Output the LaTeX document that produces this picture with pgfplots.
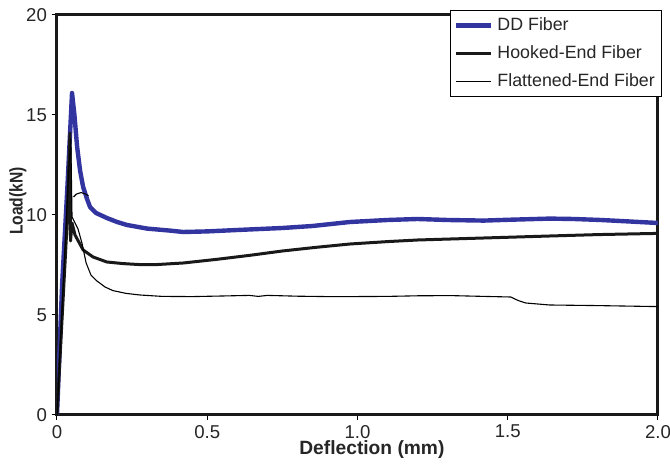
\documentclass[border=0pt]{standalone}
\usepackage{pgfplots}
\pgfplotsset{compat=1.18}
\usepackage{fontspec}
\setmainfont{Liberation Sans}
\definecolor{ddblue}{RGB}{50,52,160}
\begin{document}
\begin{tikzpicture}
\begin{axis}[
  scale only axis,
  width=300.5pt, height=200pt,
  xmin=0, xmax=2, ymin=0, ymax=20,
  xtick={0,0.5,1,1.5,2}, xticklabels={0,0.5,1.0,1.5,2.0},
  ytick={0,5,10,15,20},
  tick align=outside, major tick length=2.5pt,
  xtick pos=bottom, ytick pos=left,
  axis line style={line width=1.5pt, black!90},
  tick style={black, line width=0.5pt},
  /pgf/number format/assume math mode=true,
  ticklabel style={font=\fontsize{9.3}{11}\selectfont, text=black!85},
  xticklabel style={yshift=1pt},
  yticklabel style={xshift=1pt},
  xlabel={\bfseries Deflection (mm)},
  ylabel={\scalebox{0.85}[1]{\bfseries Load(kN)}},
  xlabel style={font=\fontsize{9.6}{11}\selectfont, text=black!85,
    at={(axis description cs:0.524,-0.0875)}, anchor=center},
  ylabel style={font=\fontsize{9.2}{11}\selectfont, text=black!85,
    at={(axis description cs:-0.065,0.535)}, anchor=center},
  legend style={at={(1.007,1.0125)}, anchor=north east, draw=black, line width=0.4pt,
    font=\fontsize{8.9}{10.5}\selectfont, fill=white, inner sep=1.5pt,
    row sep=2pt, text=black!85},
  legend cell align=left,
  legend image code/.code={\draw[#1] (0cm,0cm) -- (0.62cm,0cm);},
]
% DD fiber
\addplot[ddblue, line width=2.2pt, line join=round] coordinates {
(0,0) (0.017,6.5) (0.035,11.5) (0.05,16.1) (0.058,15.0) (0.067,13.4) (0.077,12.2)
(0.087,11.4) (0.1,10.8) (0.11,10.4) (0.13,10.1) (0.166,9.85) (0.2,9.65)
(0.233,9.5) (0.3,9.32) (0.376,9.22) (0.42,9.15) (0.5,9.18) (0.6,9.25)
(0.75,9.35) (0.85,9.45) (0.975,9.65) (1.1,9.75) (1.2,9.8) (1.3,9.75)
(1.42,9.72) (1.5,9.76) (1.64,9.82) (1.72,9.8) (1.81,9.75) (1.9,9.68) (2.0,9.6)};
\addlegendentry{DD Fiber}
% Hooked-end fiber
\addplot[black!90, line width=1.5pt, line join=round] coordinates {
(0,0) (0.033,9.4) (0.043,14.1) (0.045,8.7) (0.05,9.6) (0.06,9.0)
(0.087,8.25) (0.12,7.9) (0.166,7.65) (0.22,7.57) (0.276,7.52) (0.33,7.52)
(0.42,7.6) (0.53,7.78) (0.64,7.98) (0.75,8.2) (0.86,8.38) (0.975,8.55)
(1.1,8.67) (1.2,8.75) (1.31,8.8) (1.42,8.85) (1.53,8.9) (1.64,8.95)
(1.8,9.02) (2.0,9.08)};
\addlegendentry{Hooked-End Fiber}
% Flattened-end fiber
\addplot[black, line width=0.55pt, line join=round] coordinates {
(0,0) (0.04,12.5) (0.046,13.8) (0.05,9.9) (0.055,9.75) (0.07,9.3)
(0.083,8.6) (0.097,7.6) (0.113,7.0) (0.133,6.7) (0.16,6.4) (0.186,6.22)
(0.23,6.08) (0.276,6.0) (0.35,5.93) (0.45,5.92) (0.55,5.95) (0.64,5.98)
(0.67,5.93) (0.7,5.98) (0.8,5.94) (0.9,5.92) (0.975,5.92) (1.1,5.93)
(1.2,5.96) (1.31,5.97) (1.42,5.93) (1.51,5.9) (1.535,5.72) (1.56,5.6)
(1.64,5.5) (1.8,5.47) (2.0,5.42)};
\addlegendentry{Flattened-End Fiber}
\addplot[black, line width=0.55pt, forget plot] coordinates {
(0.055,10.9) (0.065,11.05) (0.08,11.12) (0.095,11.05) (0.105,10.95)};
\end{axis}
\pgfresetboundingbox
\path ([shift={(-28.5pt,-25pt)}]current axis.south west)
  rectangle ([shift={(6pt,7.5pt)}]current axis.north east);
\end{tikzpicture}
\end{document}
